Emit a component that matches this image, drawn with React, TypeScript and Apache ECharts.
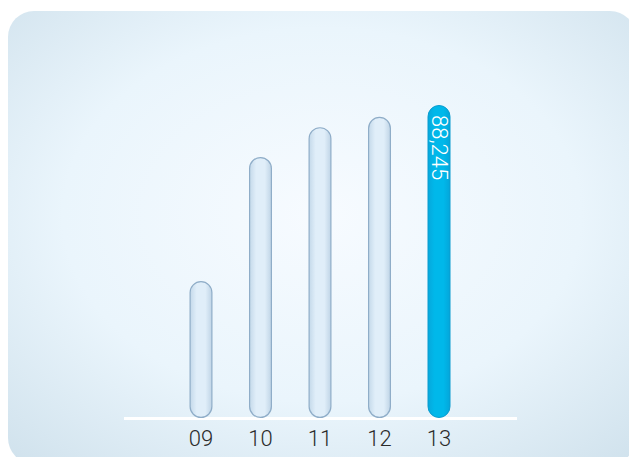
import React, { useEffect, useRef } from "react";
import * as echarts from "echarts";

const categories = ["09", "10", "11", "12", "13"];
const values = [38600, 73600, 82000, 84900, 88245];
const highlightIndex = 4;

export default function App() {
  const ref = useRef<HTMLDivElement>(null);
  useEffect(() => {
    const chart = echarts.init(ref.current!, null, { renderer: "svg" });
    const paleFill = new echarts.graphic.LinearGradient(0, 0, 1, 0, [
      { offset: 0, color: "#c4d9ea" },
      { offset: 0.3, color: "#e0eef9" },
      { offset: 0.7, color: "#e0eef9" },
      { offset: 1, color: "#bfd4e6" },
    ]);
    const cyanFill = new echarts.graphic.LinearGradient(0, 0, 1, 0, [
      { offset: 0, color: "#06a8dc" },
      { offset: 0.3, color: "#00b8ea" },
      { offset: 0.7, color: "#00b8ea" },
      { offset: 1, color: "#04a6da" },
    ]);
    const font = "Roboto, Liberation Sans, Arial, sans-serif";
    chart.setOption({
      animation: false,
      graphic: [
        {
          type: "rect",
          z: -10,
          shape: { x: 8, y: 11, width: 628, height: 453, r: 26 },
          style: {
            fill: new echarts.graphic.RadialGradient(0.5, 0.45, 0.75, [
              { offset: 0, color: "#f7fbff" },
              { offset: 0.55, color: "#eaf5fc" },
              { offset: 1, color: "#cfe1ec" },
            ]),
          },
        },
        {
          type: "line",
          z: 1,
          shape: { x1: 124, y1: 418.5, x2: 517, y2: 418.5 },
          style: { stroke: "#ffffff", lineWidth: 3 },
        },
      ],
      grid: { left: 171.25, width: 297.5, top: 63.3, bottom: 39 },
      xAxis: {
        type: "category",
        data: categories,
        axisLine: { show: false },
        axisTick: { show: false },
        axisLabel: {
          color: "#2b2b2b",
          fontSize: 22,
          fontWeight: 300,
          margin: 9,
          fontFamily: font,
        },
      },
      yAxis: {
        type: "value",
        min: 0,
        max: 100000,
        show: false,
        splitLine: { show: false },
      },
      series: [
        {
          type: "bar",
          z: 2,
          barWidth: 23,
          data: values.map((v, i) => ({
            value: v,
            itemStyle:
              i === highlightIndex
                ? { color: cyanFill, borderColor: "#0b9ccf", borderWidth: 1, borderRadius: 11.5 }
                : { color: paleFill, borderColor: "#8fadc8", borderWidth: 1.2, borderRadius: 11.5 },
            label:
              i === highlightIndex
                ? {
                    show: true,
                    position: "insideTop",
                    distance: 10,
                    rotate: -90,
                    align: "left",
                    verticalAlign: "middle",
                    color: "#ffffff",
                    fontSize: 22,
                    fontWeight: 300,
                    fontFamily: font,
                    formatter: (p: any) => p.value.toLocaleString("en-US"),
                  }
                : { show: false },
          })),
        },
      ],
    });
    return () => chart.dispose();
  }, []);
  return (
    <div
      ref={ref}
      style={{ position: "fixed", left: 0, top: 0, width: 629, height: 457, background: "#ffffff" }}
    />
  );
}
